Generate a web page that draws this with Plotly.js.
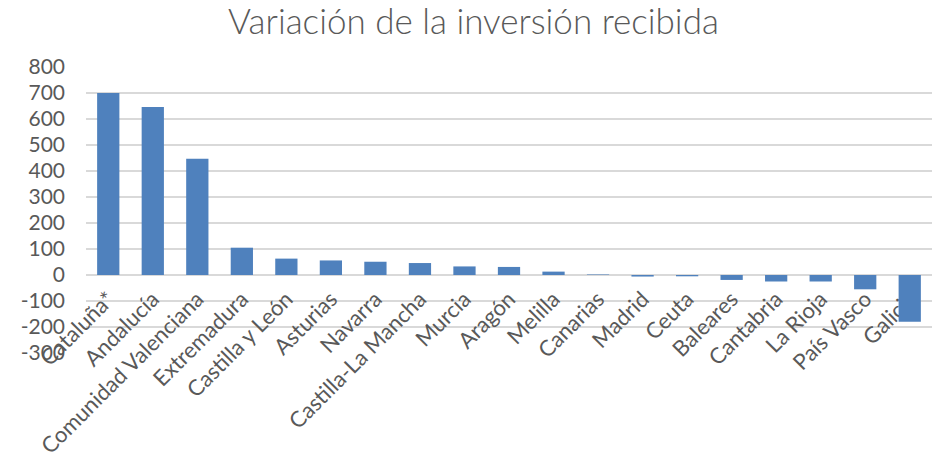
<!DOCTYPE html>
<html>
<head>
<meta charset="utf-8">
<script src="https://cdn.plot.ly/plotly-3.0.1.min.js"></script>
<style>html,body{margin:0;padding:0;background:#fff;}</style>
</head>
<body>
<div id="chart" style="width:947px;height:473px;"></div>
<script>
const regiones = ["Cataluña*", "Andalucía", "Comunidad Valenciana", "Extremadura", "Castilla y León", "Asturias", "Navarra", "Castilla-La Mancha", "Murcia", "Aragón", "Melilla", "Canarias", "Madrid", "Ceuta", "Baleares", "Cantabria", "La Rioja", "País Vasco", "Galicia"];
const variacion = [700, 646, 447, 105, 63, 56, 51, 46, 33, 31, 13, 2, -6, -5, -19, -25, -25, -55, -180];
const yTicks = [-300, -200, -100, 0, 100, 200, 300, 400, 500, 600, 700, 800];

const yMin = -300, yMax = 800;
const zeroPos = (0 - yMin) / (yMax - yMin);

const data = [{
  type: "bar",
  x: regiones,
  y: variacion,
  marker: {color: "#4f81bd"},
  hoverinfo: "x+y"
}];

const layout = {
  width: 947, height: 473,
  margin: {l: 86, r: 15, t: 67, b: 120},
  paper_bgcolor: "#fff", plot_bgcolor: "#fff",
  showlegend: false,
  bargap: 0.5,
  title: {
    text: "Variación de la inversión recibida",
    font: {family: "Lato, 'Open Sans', sans-serif", size: 35, color: "#595959", weight: 300},
    x: 0.5, xanchor: "center", y: 0.955, yanchor: "middle"
  },
  xaxis: {
    anchor: "free", position: zeroPos,
    tickangle: -45,
    tickfont: {family: "Lato, 'Open Sans', sans-serif", size: 22, color: "#595959"},
    showgrid: false, showline: false, ticks: "",
    ticklabelstandoff: 6,
    layer: "below traces",
    automargin: false
  },
  yaxis: {
    range: [yMin, yMax],
    tickvals: yTicks,
    ticktext: yTicks.map(String),
    tickfont: {family: "Lato, 'Open Sans', sans-serif", size: 21, color: "#595959"},
    showgrid: true, gridcolor: "#d9d9d9", gridwidth: 1.5,
    zeroline: true, zerolinecolor: "#d9d9d9", zerolinewidth: 1.5,
    showline: false, ticks: "",
    ticklabelstandoff: 20,
    automargin: false
  }
};

Plotly.newPlot("chart", data, layout, {displayModeBar: false, staticPlot: true});
</script>
</body>
</html>
